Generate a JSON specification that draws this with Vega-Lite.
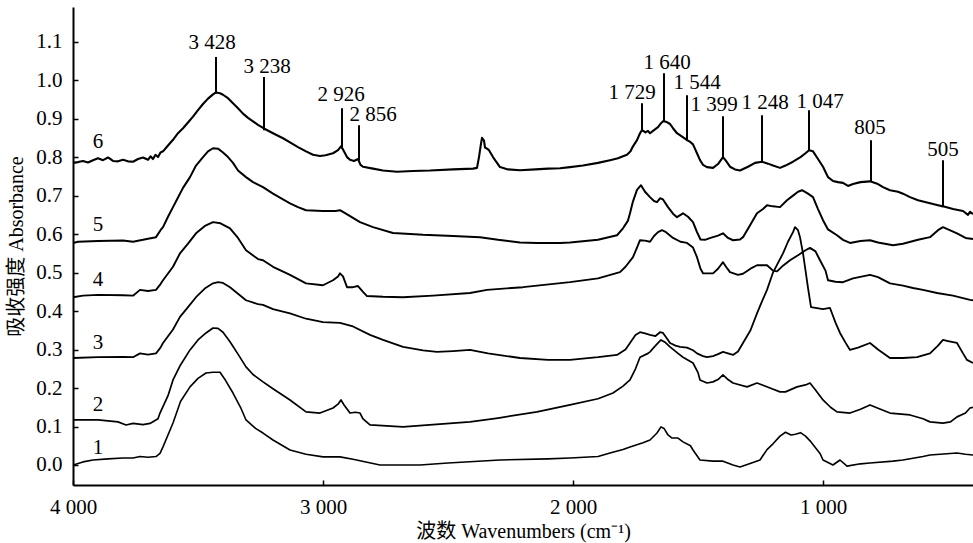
{
  "$schema": "https://vega.github.io/schema/vega-lite/v6.json",
  "width": 900,
  "height": 478,
  "autosize": "none",
  "padding": {"left": 73, "top": 7, "right": 0, "bottom": 58},
  "background": "white",
  "config": {
    "view": {"stroke": null},
    "font": "Liberation Serif, Times New Roman, serif",
    "text": {"font": "Liberation Serif, Times New Roman, serif"},
    "axis": {
      "grid": false,
      "domainColor": "black",
      "domainWidth": 2,
      "tickColor": "black",
      "tickWidth": 1.5,
      "tickSize": -5,
      "labelFont": "Liberation Serif, Times New Roman, serif",
      "labelFontSize": 21,
      "labelColor": "black",
      "labelPadding": 16,
      "labelFlush": false,
      "titleFont": "Liberation Serif, Noto Sans CJK SC, serif",
      "titleFontSize": 20,
      "titleFontWeight": "normal",
      "titleColor": "black"
    }
  },
  "datasets": {
    "spectra": [
      {"s":6,"wn":4000,"a":0.785},{"s":6,"wn":3980,"a":0.787},{"s":6,"wn":3960,"a":0.79},{"s":6,"wn":3940,"a":0.786},{"s":6,"wn":3920,"a":0.792},{"s":6,"wn":3900,"a":0.797},{"s":6,"wn":3880,"a":0.792},{"s":6,"wn":3860,"a":0.799},{"s":6,"wn":3840,"a":0.79},{"s":6,"wn":3820,"a":0.789},{"s":6,"wn":3800,"a":0.793},{"s":6,"wn":3780,"a":0.789},{"s":6,"wn":3760,"a":0.788},{"s":6,"wn":3740,"a":0.795},{"s":6,"wn":3720,"a":0.799},{"s":6,"wn":3700,"a":0.793},{"s":6,"wn":3690,"a":0.802},{"s":6,"wn":3680,"a":0.795},{"s":6,"wn":3670,"a":0.806},{"s":6,"wn":3660,"a":0.8},{"s":6,"wn":3650,"a":0.812},{"s":6,"wn":3640,"a":0.815},{"s":6,"wn":3620,"a":0.83},{"s":6,"wn":3600,"a":0.845},{"s":6,"wn":3580,"a":0.862},{"s":6,"wn":3560,"a":0.875},{"s":6,"wn":3540,"a":0.89},{"s":6,"wn":3520,"a":0.905},{"s":6,"wn":3500,"a":0.922},{"s":6,"wn":3480,"a":0.938},{"s":6,"wn":3460,"a":0.952},{"s":6,"wn":3440,"a":0.963},{"s":6,"wn":3428,"a":0.968},{"s":6,"wn":3412,"a":0.966},{"s":6,"wn":3400,"a":0.962},{"s":6,"wn":3380,"a":0.953},{"s":6,"wn":3360,"a":0.94},{"s":6,"wn":3340,"a":0.927},{"s":6,"wn":3320,"a":0.913},{"s":6,"wn":3300,"a":0.902},{"s":6,"wn":3280,"a":0.893},{"s":6,"wn":3260,"a":0.884},{"s":6,"wn":3238,"a":0.875},{"s":6,"wn":3200,"a":0.862},{"s":6,"wn":3160,"a":0.849},{"s":6,"wn":3132,"a":0.838},{"s":6,"wn":3100,"a":0.826},{"s":6,"wn":3068,"a":0.815},{"s":6,"wn":3040,"a":0.806},{"s":6,"wn":3012,"a":0.803},{"s":6,"wn":2990,"a":0.805},{"s":6,"wn":2960,"a":0.81},{"s":6,"wn":2940,"a":0.818},{"s":6,"wn":2928,"a":0.828},{"s":6,"wn":2920,"a":0.82},{"s":6,"wn":2904,"a":0.8},{"s":6,"wn":2892,"a":0.793},{"s":6,"wn":2876,"a":0.79},{"s":6,"wn":2860,"a":0.795},{"s":6,"wn":2850,"a":0.78},{"s":6,"wn":2840,"a":0.775},{"s":6,"wn":2800,"a":0.77},{"s":6,"wn":2760,"a":0.765},{"s":6,"wn":2704,"a":0.762},{"s":6,"wn":2640,"a":0.764},{"s":6,"wn":2572,"a":0.765},{"s":6,"wn":2480,"a":0.768},{"s":6,"wn":2400,"a":0.77},{"s":6,"wn":2384,"a":0.772},{"s":6,"wn":2376,"a":0.8},{"s":6,"wn":2368,"a":0.835},{"s":6,"wn":2364,"a":0.85},{"s":6,"wn":2356,"a":0.843},{"s":6,"wn":2352,"a":0.825},{"s":6,"wn":2344,"a":0.822},{"s":6,"wn":2336,"a":0.818},{"s":6,"wn":2320,"a":0.8},{"s":6,"wn":2304,"a":0.785},{"s":6,"wn":2292,"a":0.774},{"s":6,"wn":2260,"a":0.768},{"s":6,"wn":2212,"a":0.766},{"s":6,"wn":2150,"a":0.768},{"s":6,"wn":2100,"a":0.77},{"s":6,"wn":2052,"a":0.771},{"s":6,"wn":2012,"a":0.774},{"s":6,"wn":1960,"a":0.778},{"s":6,"wn":1900,"a":0.785},{"s":6,"wn":1852,"a":0.792},{"s":6,"wn":1820,"a":0.797},{"s":6,"wn":1800,"a":0.802},{"s":6,"wn":1784,"a":0.806},{"s":6,"wn":1770,"a":0.815},{"s":6,"wn":1760,"a":0.828},{"s":6,"wn":1744,"a":0.844},{"s":6,"wn":1732,"a":0.862},{"s":6,"wn":1724,"a":0.87},{"s":6,"wn":1710,"a":0.864},{"s":6,"wn":1700,"a":0.868},{"s":6,"wn":1692,"a":0.862},{"s":6,"wn":1676,"a":0.87},{"s":6,"wn":1660,"a":0.878},{"s":6,"wn":1648,"a":0.888},{"s":6,"wn":1640,"a":0.893},{"s":6,"wn":1628,"a":0.892},{"s":6,"wn":1612,"a":0.886},{"s":6,"wn":1600,"a":0.875},{"s":6,"wn":1584,"a":0.862},{"s":6,"wn":1568,"a":0.855},{"s":6,"wn":1552,"a":0.848},{"s":6,"wn":1544,"a":0.844},{"s":6,"wn":1532,"a":0.84},{"s":6,"wn":1520,"a":0.833},{"s":6,"wn":1504,"a":0.81},{"s":6,"wn":1492,"a":0.792},{"s":6,"wn":1480,"a":0.78},{"s":6,"wn":1464,"a":0.774},{"s":6,"wn":1440,"a":0.772},{"s":6,"wn":1420,"a":0.782},{"s":6,"wn":1400,"a":0.8},{"s":6,"wn":1388,"a":0.79},{"s":6,"wn":1372,"a":0.775},{"s":6,"wn":1352,"a":0.768},{"s":6,"wn":1332,"a":0.765},{"s":6,"wn":1300,"a":0.775},{"s":6,"wn":1272,"a":0.785},{"s":6,"wn":1244,"a":0.788},{"s":6,"wn":1220,"a":0.783},{"s":6,"wn":1200,"a":0.778},{"s":6,"wn":1172,"a":0.772},{"s":6,"wn":1150,"a":0.778},{"s":6,"wn":1120,"a":0.788},{"s":6,"wn":1090,"a":0.8},{"s":6,"wn":1070,"a":0.81},{"s":6,"wn":1056,"a":0.818},{"s":6,"wn":1040,"a":0.815},{"s":6,"wn":1020,"a":0.795},{"s":6,"wn":1000,"a":0.775},{"s":6,"wn":980,"a":0.748},{"s":6,"wn":960,"a":0.738},{"s":6,"wn":940,"a":0.735},{"s":6,"wn":920,"a":0.733},{"s":6,"wn":900,"a":0.725},{"s":6,"wn":880,"a":0.73},{"s":6,"wn":850,"a":0.735},{"s":6,"wn":812,"a":0.737},{"s":6,"wn":780,"a":0.73},{"s":6,"wn":760,"a":0.722},{"s":6,"wn":732,"a":0.714},{"s":6,"wn":700,"a":0.71},{"s":6,"wn":680,"a":0.705},{"s":6,"wn":652,"a":0.696},{"s":6,"wn":620,"a":0.688},{"s":6,"wn":572,"a":0.68},{"s":6,"wn":540,"a":0.675},{"s":6,"wn":520,"a":0.672},{"s":6,"wn":480,"a":0.665},{"s":6,"wn":440,"a":0.66},{"s":6,"wn":420,"a":0.65},{"s":6,"wn":412,"a":0.658},{"s":6,"wn":400,"a":0.652},

      {"s":5,"wn":4000,"a":0.577},{"s":5,"wn":3980,"a":0.58},{"s":5,"wn":3900,"a":0.582},{"s":5,"wn":3800,"a":0.583},{"s":5,"wn":3760,"a":0.58},{"s":5,"wn":3720,"a":0.585},{"s":5,"wn":3700,"a":0.588},{"s":5,"wn":3668,"a":0.592},{"s":5,"wn":3650,"a":0.61},{"s":5,"wn":3640,"a":0.618},{"s":5,"wn":3620,"a":0.645},{"s":5,"wn":3600,"a":0.67},{"s":5,"wn":3580,"a":0.695},{"s":5,"wn":3560,"a":0.72},{"s":5,"wn":3532,"a":0.748},{"s":5,"wn":3508,"a":0.778},{"s":5,"wn":3480,"a":0.8},{"s":5,"wn":3460,"a":0.815},{"s":5,"wn":3440,"a":0.823},{"s":5,"wn":3420,"a":0.822},{"s":5,"wn":3400,"a":0.812},{"s":5,"wn":3380,"a":0.8},{"s":5,"wn":3360,"a":0.785},{"s":5,"wn":3340,"a":0.765},{"s":5,"wn":3308,"a":0.748},{"s":5,"wn":3280,"a":0.735},{"s":5,"wn":3240,"a":0.722},{"s":5,"wn":3200,"a":0.705},{"s":5,"wn":3160,"a":0.69},{"s":5,"wn":3132,"a":0.68},{"s":5,"wn":3100,"a":0.67},{"s":5,"wn":3068,"a":0.662},{"s":5,"wn":3000,"a":0.66},{"s":5,"wn":2950,"a":0.66},{"s":5,"wn":2932,"a":0.662},{"s":5,"wn":2900,"a":0.65},{"s":5,"wn":2852,"a":0.631},{"s":5,"wn":2800,"a":0.618},{"s":5,"wn":2720,"a":0.603},{"s":5,"wn":2600,"a":0.598},{"s":5,"wn":2480,"a":0.595},{"s":5,"wn":2372,"a":0.592},{"s":5,"wn":2300,"a":0.585},{"s":5,"wn":2212,"a":0.578},{"s":5,"wn":2144,"a":0.577},{"s":5,"wn":2052,"a":0.577},{"s":5,"wn":2012,"a":0.578},{"s":5,"wn":1900,"a":0.585},{"s":5,"wn":1824,"a":0.597},{"s":5,"wn":1800,"a":0.615},{"s":5,"wn":1780,"a":0.635},{"s":5,"wn":1772,"a":0.654},{"s":5,"wn":1760,"a":0.685},{"s":5,"wn":1744,"a":0.715},{"s":5,"wn":1728,"a":0.727},{"s":5,"wn":1712,"a":0.71},{"s":5,"wn":1692,"a":0.696},{"s":5,"wn":1676,"a":0.686},{"s":5,"wn":1664,"a":0.683},{"s":5,"wn":1652,"a":0.693},{"s":5,"wn":1640,"a":0.69},{"s":5,"wn":1620,"a":0.67},{"s":5,"wn":1600,"a":0.653},{"s":5,"wn":1584,"a":0.644},{"s":5,"wn":1560,"a":0.654},{"s":5,"wn":1540,"a":0.645},{"s":5,"wn":1520,"a":0.631},{"s":5,"wn":1504,"a":0.605},{"s":5,"wn":1490,"a":0.586},{"s":5,"wn":1472,"a":0.585},{"s":5,"wn":1450,"a":0.59},{"s":5,"wn":1420,"a":0.596},{"s":5,"wn":1400,"a":0.602},{"s":5,"wn":1380,"a":0.59},{"s":5,"wn":1360,"a":0.584},{"s":5,"wn":1332,"a":0.586},{"s":5,"wn":1320,"a":0.592},{"s":5,"wn":1290,"a":0.625},{"s":5,"wn":1264,"a":0.654},{"s":5,"wn":1240,"a":0.665},{"s":5,"wn":1224,"a":0.675},{"s":5,"wn":1200,"a":0.672},{"s":5,"wn":1172,"a":0.67},{"s":5,"wn":1144,"a":0.688},{"s":5,"wn":1120,"a":0.7},{"s":5,"wn":1100,"a":0.71},{"s":5,"wn":1084,"a":0.714},{"s":5,"wn":1060,"a":0.705},{"s":5,"wn":1040,"a":0.696},{"s":5,"wn":1020,"a":0.665},{"s":5,"wn":1000,"a":0.636},{"s":5,"wn":980,"a":0.612},{"s":5,"wn":944,"a":0.597},{"s":5,"wn":920,"a":0.585},{"s":5,"wn":892,"a":0.577},{"s":5,"wn":850,"a":0.582},{"s":5,"wn":812,"a":0.584},{"s":5,"wn":780,"a":0.578},{"s":5,"wn":720,"a":0.571},{"s":5,"wn":680,"a":0.575},{"s":5,"wn":620,"a":0.585},{"s":5,"wn":572,"a":0.592},{"s":5,"wn":540,"a":0.61},{"s":5,"wn":520,"a":0.618},{"s":5,"wn":500,"a":0.612},{"s":5,"wn":464,"a":0.602},{"s":5,"wn":430,"a":0.59},{"s":5,"wn":400,"a":0.587},

      {"s":4,"wn":4000,"a":0.436},{"s":4,"wn":3960,"a":0.44},{"s":4,"wn":3900,"a":0.442},{"s":4,"wn":3800,"a":0.441},{"s":4,"wn":3760,"a":0.44},{"s":4,"wn":3732,"a":0.455},{"s":4,"wn":3700,"a":0.452},{"s":4,"wn":3668,"a":0.455},{"s":4,"wn":3650,"a":0.47},{"s":4,"wn":3640,"a":0.48},{"s":4,"wn":3600,"a":0.515},{"s":4,"wn":3572,"a":0.55},{"s":4,"wn":3540,"a":0.575},{"s":4,"wn":3508,"a":0.602},{"s":4,"wn":3470,"a":0.622},{"s":4,"wn":3440,"a":0.631},{"s":4,"wn":3410,"a":0.628},{"s":4,"wn":3372,"a":0.615},{"s":4,"wn":3340,"a":0.59},{"s":4,"wn":3308,"a":0.558},{"s":4,"wn":3260,"a":0.535},{"s":4,"wn":3240,"a":0.532},{"s":4,"wn":3200,"a":0.515},{"s":4,"wn":3132,"a":0.494},{"s":4,"wn":3068,"a":0.472},{"s":4,"wn":3000,"a":0.467},{"s":4,"wn":2960,"a":0.48},{"s":4,"wn":2940,"a":0.49},{"s":4,"wn":2932,"a":0.498},{"s":4,"wn":2920,"a":0.49},{"s":4,"wn":2904,"a":0.462},{"s":4,"wn":2880,"a":0.462},{"s":4,"wn":2860,"a":0.465},{"s":4,"wn":2840,"a":0.45},{"s":4,"wn":2824,"a":0.439},{"s":4,"wn":2760,"a":0.437},{"s":4,"wn":2680,"a":0.436},{"s":4,"wn":2560,"a":0.44},{"s":4,"wn":2412,"a":0.447},{"s":4,"wn":2344,"a":0.455},{"s":4,"wn":2200,"a":0.462},{"s":4,"wn":2012,"a":0.475},{"s":4,"wn":1900,"a":0.485},{"s":4,"wn":1812,"a":0.501},{"s":4,"wn":1790,"a":0.515},{"s":4,"wn":1760,"a":0.54},{"s":4,"wn":1744,"a":0.565},{"s":4,"wn":1732,"a":0.584},{"s":4,"wn":1712,"a":0.583},{"s":4,"wn":1692,"a":0.58},{"s":4,"wn":1676,"a":0.595},{"s":4,"wn":1660,"a":0.605},{"s":4,"wn":1644,"a":0.61},{"s":4,"wn":1628,"a":0.605},{"s":4,"wn":1600,"a":0.59},{"s":4,"wn":1570,"a":0.58},{"s":4,"wn":1544,"a":0.577},{"s":4,"wn":1520,"a":0.565},{"s":4,"wn":1504,"a":0.54},{"s":4,"wn":1490,"a":0.51},{"s":4,"wn":1480,"a":0.498},{"s":4,"wn":1440,"a":0.498},{"s":4,"wn":1420,"a":0.51},{"s":4,"wn":1400,"a":0.527},{"s":4,"wn":1388,"a":0.515},{"s":4,"wn":1372,"a":0.501},{"s":4,"wn":1340,"a":0.494},{"s":4,"wn":1320,"a":0.497},{"s":4,"wn":1290,"a":0.51},{"s":4,"wn":1264,"a":0.519},{"s":4,"wn":1224,"a":0.519},{"s":4,"wn":1200,"a":0.505},{"s":4,"wn":1184,"a":0.503},{"s":4,"wn":1160,"a":0.518},{"s":4,"wn":1132,"a":0.532},{"s":4,"wn":1100,"a":0.545},{"s":4,"wn":1070,"a":0.558},{"s":4,"wn":1052,"a":0.564},{"s":4,"wn":1030,"a":0.555},{"s":4,"wn":1012,"a":0.532},{"s":4,"wn":990,"a":0.505},{"s":4,"wn":980,"a":0.48},{"s":4,"wn":950,"a":0.476},{"s":4,"wn":920,"a":0.475},{"s":4,"wn":880,"a":0.485},{"s":4,"wn":812,"a":0.494},{"s":4,"wn":780,"a":0.488},{"s":4,"wn":732,"a":0.472},{"s":4,"wn":680,"a":0.466},{"s":4,"wn":640,"a":0.46},{"s":4,"wn":600,"a":0.455},{"s":4,"wn":544,"a":0.447},{"s":4,"wn":480,"a":0.44},{"s":4,"wn":412,"a":0.429},{"s":4,"wn":400,"a":0.428},

      {"s":3,"wn":4000,"a":0.278},{"s":3,"wn":3900,"a":0.28},{"s":3,"wn":3800,"a":0.281},{"s":3,"wn":3760,"a":0.28},{"s":3,"wn":3732,"a":0.29},{"s":3,"wn":3700,"a":0.287},{"s":3,"wn":3668,"a":0.29},{"s":3,"wn":3650,"a":0.305},{"s":3,"wn":3640,"a":0.317},{"s":3,"wn":3600,"a":0.352},{"s":3,"wn":3572,"a":0.385},{"s":3,"wn":3540,"a":0.41},{"s":3,"wn":3508,"a":0.436},{"s":3,"wn":3470,"a":0.46},{"s":3,"wn":3440,"a":0.472},{"s":3,"wn":3420,"a":0.475},{"s":3,"wn":3400,"a":0.473},{"s":3,"wn":3372,"a":0.462},{"s":3,"wn":3340,"a":0.445},{"s":3,"wn":3308,"a":0.428},{"s":3,"wn":3260,"a":0.418},{"s":3,"wn":3240,"a":0.416},{"s":3,"wn":3200,"a":0.405},{"s":3,"wn":3132,"a":0.394},{"s":3,"wn":3068,"a":0.38},{"s":3,"wn":3000,"a":0.371},{"s":3,"wn":2932,"a":0.369},{"s":3,"wn":2880,"a":0.36},{"s":3,"wn":2812,"a":0.338},{"s":3,"wn":2760,"a":0.325},{"s":3,"wn":2680,"a":0.307},{"s":3,"wn":2600,"a":0.298},{"s":3,"wn":2544,"a":0.294},{"s":3,"wn":2480,"a":0.296},{"s":3,"wn":2412,"a":0.299},{"s":3,"wn":2340,"a":0.29},{"s":3,"wn":2212,"a":0.278},{"s":3,"wn":2100,"a":0.273},{"s":3,"wn":2012,"a":0.273},{"s":3,"wn":1900,"a":0.28},{"s":3,"wn":1824,"a":0.286},{"s":3,"wn":1790,"a":0.3},{"s":3,"wn":1772,"a":0.317},{"s":3,"wn":1750,"a":0.338},{"s":3,"wn":1732,"a":0.345},{"s":3,"wn":1712,"a":0.342},{"s":3,"wn":1692,"a":0.338},{"s":3,"wn":1670,"a":0.335},{"s":3,"wn":1652,"a":0.345},{"s":3,"wn":1640,"a":0.343},{"s":3,"wn":1620,"a":0.325},{"s":3,"wn":1612,"a":0.317},{"s":3,"wn":1590,"a":0.31},{"s":3,"wn":1572,"a":0.307},{"s":3,"wn":1544,"a":0.305},{"s":3,"wn":1520,"a":0.298},{"s":3,"wn":1504,"a":0.29},{"s":3,"wn":1480,"a":0.283},{"s":3,"wn":1464,"a":0.28},{"s":3,"wn":1440,"a":0.283},{"s":3,"wn":1420,"a":0.288},{"s":3,"wn":1400,"a":0.294},{"s":3,"wn":1380,"a":0.29},{"s":3,"wn":1360,"a":0.286},{"s":3,"wn":1340,"a":0.295},{"s":3,"wn":1320,"a":0.317},{"s":3,"wn":1290,"a":0.35},{"s":3,"wn":1264,"a":0.394},{"s":3,"wn":1244,"a":0.425},{"s":3,"wn":1224,"a":0.455},{"s":3,"wn":1200,"a":0.5},{"s":3,"wn":1184,"a":0.52},{"s":3,"wn":1160,"a":0.55},{"s":3,"wn":1140,"a":0.58},{"s":3,"wn":1120,"a":0.605},{"s":3,"wn":1112,"a":0.618},{"s":3,"wn":1100,"a":0.61},{"s":3,"wn":1092,"a":0.592},{"s":3,"wn":1080,"a":0.55},{"s":3,"wn":1072,"a":0.515},{"s":3,"wn":1060,"a":0.46},{"s":3,"wn":1048,"a":0.41},{"s":3,"wn":1030,"a":0.408},{"s":3,"wn":1000,"a":0.405},{"s":3,"wn":972,"a":0.408},{"s":3,"wn":950,"a":0.37},{"s":3,"wn":932,"a":0.343},{"s":3,"wn":910,"a":0.318},{"s":3,"wn":892,"a":0.299},{"s":3,"wn":860,"a":0.305},{"s":3,"wn":812,"a":0.317},{"s":3,"wn":780,"a":0.3},{"s":3,"wn":732,"a":0.278},{"s":3,"wn":680,"a":0.278},{"s":3,"wn":624,"a":0.28},{"s":3,"wn":572,"a":0.29},{"s":3,"wn":540,"a":0.31},{"s":3,"wn":520,"a":0.325},{"s":3,"wn":500,"a":0.322},{"s":3,"wn":464,"a":0.317},{"s":3,"wn":440,"a":0.29},{"s":3,"wn":424,"a":0.273},{"s":3,"wn":400,"a":0.265},

      {"s":2,"wn":4000,"a":0.117},{"s":2,"wn":3900,"a":0.117},{"s":2,"wn":3820,"a":0.112},{"s":2,"wn":3788,"a":0.104},{"s":2,"wn":3760,"a":0.108},{"s":2,"wn":3720,"a":0.105},{"s":2,"wn":3692,"a":0.108},{"s":2,"wn":3660,"a":0.12},{"s":2,"wn":3652,"a":0.135},{"s":2,"wn":3620,"a":0.18},{"s":2,"wn":3600,"a":0.221},{"s":2,"wn":3570,"a":0.26},{"s":2,"wn":3532,"a":0.299},{"s":2,"wn":3500,"a":0.325},{"s":2,"wn":3468,"a":0.343},{"s":2,"wn":3440,"a":0.356},{"s":2,"wn":3420,"a":0.355},{"s":2,"wn":3400,"a":0.345},{"s":2,"wn":3372,"a":0.32},{"s":2,"wn":3340,"a":0.288},{"s":2,"wn":3308,"a":0.255},{"s":2,"wn":3280,"a":0.235},{"s":2,"wn":3240,"a":0.216},{"s":2,"wn":3200,"a":0.198},{"s":2,"wn":3132,"a":0.169},{"s":2,"wn":3068,"a":0.138},{"s":2,"wn":3012,"a":0.135},{"s":2,"wn":2960,"a":0.148},{"s":2,"wn":2940,"a":0.158},{"s":2,"wn":2928,"a":0.169},{"s":2,"wn":2915,"a":0.155},{"s":2,"wn":2892,"a":0.135},{"s":2,"wn":2870,"a":0.137},{"s":2,"wn":2852,"a":0.135},{"s":2,"wn":2840,"a":0.12},{"s":2,"wn":2812,"a":0.104},{"s":2,"wn":2680,"a":0.099},{"s":2,"wn":2560,"a":0.105},{"s":2,"wn":2412,"a":0.112},{"s":2,"wn":2300,"a":0.122},{"s":2,"wn":2144,"a":0.138},{"s":2,"wn":2012,"a":0.156},{"s":2,"wn":1900,"a":0.172},{"s":2,"wn":1840,"a":0.187},{"s":2,"wn":1800,"a":0.205},{"s":2,"wn":1772,"a":0.221},{"s":2,"wn":1750,"a":0.25},{"s":2,"wn":1732,"a":0.28},{"s":2,"wn":1700,"a":0.29},{"s":2,"wn":1692,"a":0.294},{"s":2,"wn":1670,"a":0.31},{"s":2,"wn":1648,"a":0.325},{"s":2,"wn":1630,"a":0.318},{"s":2,"wn":1612,"a":0.307},{"s":2,"wn":1580,"a":0.29},{"s":2,"wn":1560,"a":0.28},{"s":2,"wn":1520,"a":0.265},{"s":2,"wn":1500,"a":0.24},{"s":2,"wn":1492,"a":0.221},{"s":2,"wn":1464,"a":0.213},{"s":2,"wn":1440,"a":0.216},{"s":2,"wn":1420,"a":0.222},{"s":2,"wn":1400,"a":0.234},{"s":2,"wn":1380,"a":0.222},{"s":2,"wn":1360,"a":0.213},{"s":2,"wn":1304,"a":0.203},{"s":2,"wn":1264,"a":0.213},{"s":2,"wn":1212,"a":0.2},{"s":2,"wn":1172,"a":0.19},{"s":2,"wn":1150,"a":0.19},{"s":2,"wn":1104,"a":0.203},{"s":2,"wn":1070,"a":0.208},{"s":2,"wn":1052,"a":0.213},{"s":2,"wn":1030,"a":0.195},{"s":2,"wn":1000,"a":0.169},{"s":2,"wn":970,"a":0.15},{"s":2,"wn":944,"a":0.138},{"s":2,"wn":892,"a":0.135},{"s":2,"wn":850,"a":0.145},{"s":2,"wn":812,"a":0.156},{"s":2,"wn":770,"a":0.145},{"s":2,"wn":732,"a":0.135},{"s":2,"wn":652,"a":0.13},{"s":2,"wn":600,"a":0.12},{"s":2,"wn":572,"a":0.112},{"s":2,"wn":520,"a":0.109},{"s":2,"wn":490,"a":0.112},{"s":2,"wn":464,"a":0.125},{"s":2,"wn":430,"a":0.135},{"s":2,"wn":412,"a":0.148},{"s":2,"wn":400,"a":0.15},

      {"s":1,"wn":4000,"a":0.0},{"s":1,"wn":3960,"a":0.008},{"s":1,"wn":3920,"a":0.013},{"s":1,"wn":3860,"a":0.016},{"s":1,"wn":3800,"a":0.018},{"s":1,"wn":3760,"a":0.018},{"s":1,"wn":3732,"a":0.022},{"s":1,"wn":3700,"a":0.02},{"s":1,"wn":3668,"a":0.022},{"s":1,"wn":3652,"a":0.03},{"s":1,"wn":3640,"a":0.047},{"s":1,"wn":3600,"a":0.109},{"s":1,"wn":3570,"a":0.165},{"s":1,"wn":3532,"a":0.203},{"s":1,"wn":3500,"a":0.225},{"s":1,"wn":3468,"a":0.239},{"s":1,"wn":3440,"a":0.241},{"s":1,"wn":3412,"a":0.241},{"s":1,"wn":3390,"a":0.22},{"s":1,"wn":3360,"a":0.187},{"s":1,"wn":3330,"a":0.15},{"s":1,"wn":3308,"a":0.117},{"s":1,"wn":3270,"a":0.095},{"s":1,"wn":3240,"a":0.083},{"s":1,"wn":3200,"a":0.065},{"s":1,"wn":3132,"a":0.039},{"s":1,"wn":3068,"a":0.028},{"s":1,"wn":3000,"a":0.021},{"s":1,"wn":2932,"a":0.021},{"s":1,"wn":2880,"a":0.015},{"s":1,"wn":2772,"a":0.0},{"s":1,"wn":2612,"a":0.0},{"s":1,"wn":2500,"a":0.005},{"s":1,"wn":2292,"a":0.013},{"s":1,"wn":2100,"a":0.016},{"s":1,"wn":2012,"a":0.018},{"s":1,"wn":1900,"a":0.022},{"s":1,"wn":1852,"a":0.031},{"s":1,"wn":1800,"a":0.04},{"s":1,"wn":1772,"a":0.047},{"s":1,"wn":1720,"a":0.058},{"s":1,"wn":1692,"a":0.065},{"s":1,"wn":1664,"a":0.083},{"s":1,"wn":1648,"a":0.099},{"s":1,"wn":1636,"a":0.095},{"s":1,"wn":1620,"a":0.078},{"s":1,"wn":1604,"a":0.07},{"s":1,"wn":1580,"a":0.07},{"s":1,"wn":1560,"a":0.06},{"s":1,"wn":1530,"a":0.05},{"s":1,"wn":1520,"a":0.039},{"s":1,"wn":1492,"a":0.013},{"s":1,"wn":1440,"a":0.01},{"s":1,"wn":1400,"a":0.01},{"s":1,"wn":1360,"a":0.0},{"s":1,"wn":1332,"a":-0.005},{"s":1,"wn":1300,"a":0.002},{"s":1,"wn":1252,"a":0.013},{"s":1,"wn":1224,"a":0.04},{"s":1,"wn":1200,"a":0.055},{"s":1,"wn":1172,"a":0.075},{"s":1,"wn":1150,"a":0.085},{"s":1,"wn":1128,"a":0.078},{"s":1,"wn":1110,"a":0.08},{"s":1,"wn":1090,"a":0.084},{"s":1,"wn":1070,"a":0.075},{"s":1,"wn":1048,"a":0.06},{"s":1,"wn":1012,"a":0.03},{"s":1,"wn":1000,"a":0.013},{"s":1,"wn":960,"a":0.0},{"s":1,"wn":932,"a":0.013},{"s":1,"wn":904,"a":-0.003},{"s":1,"wn":850,"a":0.003},{"s":1,"wn":812,"a":0.005},{"s":1,"wn":720,"a":0.01},{"s":1,"wn":680,"a":0.013},{"s":1,"wn":600,"a":0.022},{"s":1,"wn":572,"a":0.026},{"s":1,"wn":464,"a":0.031},{"s":1,"wn":430,"a":0.028},{"s":1,"wn":400,"a":0.026}
    ],
    "peaks": [
      {"label":"3 428","wn":3428,"y1":0.966,"y2":1.06,"lwn":3444,"ly":1.096},
      {"label":"3 238","wn":3236,"y1":0.87,"y2":1.008,"lwn":3224,"ly":1.034},
      {"label":"2 926","wn":2924,"y1":0.826,"y2":0.927,"lwn":2928,"ly":0.961},
      {"label":"2 856","wn":2856,"y1":0.792,"y2":0.883,"lwn":2800,"ly":0.909},
      {"label":"1 729","wn":1724,"y1":0.87,"y2":0.94,"lwn":1764,"ly":0.966},
      {"label":"1 640","wn":1636,"y1":0.893,"y2":1.018,"lwn":1624,"ly":1.044},
      {"label":"1 544","wn":1544,"y1":0.844,"y2":0.961,"lwn":1504,"ly":0.992},
      {"label":"1 399","wn":1400,"y1":0.8,"y2":0.906,"lwn":1436,"ly":0.935},
      {"label":"1 248","wn":1244,"y1":0.788,"y2":0.909,"lwn":1232,"ly":0.94},
      {"label":"1 047","wn":1056,"y1":0.818,"y2":0.922,"lwn":1012,"ly":0.943},
      {"label":"805","wn":808,"y1":0.737,"y2":0.844,"lwn":812,"ly":0.875},
      {"label":"505","wn":520,"y1":0.672,"y2":0.792,"lwn":520,"ly":0.818}
    ],
    "names": [
      {"n":"6","wn":3900,"a":0.839},
      {"n":"5","wn":3900,"a":0.623},
      {"n":"4","wn":3900,"a":0.481},
      {"n":"3","wn":3900,"a":0.317},
      {"n":"2","wn":3900,"a":0.156},
      {"n":"1","wn":3900,"a":0.044}
    ]
  },
  "layer": [
    {
      "data": {"name": "spectra"},
      "mark": {"type": "line", "color": "black", "strokeJoin": "round", "clip": true},
      "encoding": {
        "x": {
          "field": "wn", "type": "quantitative",
          "scale": {"domain": [400, 4000], "reverse": true, "nice": false, "zero": false},
          "axis": {
            "values": [4000, 3000, 2000, 1000],
            "labelExpr": "replace(format(datum.value, ','), ',', ' ')",
            "labelFont": "Liberation Serif, Times New Roman, serif",
            "title": "波数 Wavenumbers (cm⁻¹)",
            "titlePadding": 4
          }
        },
        "y": {
          "field": "a", "type": "quantitative",
          "scale": {"domain": [-0.052, 1.19], "nice": false, "zero": false},
          "axis": {
            "values": [0, 0.1, 0.2, 0.3, 0.4, 0.5, 0.6, 0.7, 0.8, 0.9, 1.0, 1.1],
            "format": ".1f",
            "labelFont": "Liberation Serif, Times New Roman, serif",
            "title": "吸收强度 Absorbance",
            "titlePadding": 9
          }
        },
        "detail": {"field": "s", "type": "nominal"},
        "strokeWidth": {
          "field": "s", "type": "ordinal",
          "scale": {"domain": [1, 2, 3, 4, 5, 6], "range": [1.6, 2.1, 1.2, 2.1, 1.7, 2.2]},
          "legend": null
        },
        "order": {"field": "wn", "type": "quantitative", "sort": "descending"}
      }
    },
    {
      "data": {"name": "peaks"},
      "mark": {"type": "rule", "color": "black", "strokeWidth": 2},
      "encoding": {
        "x": {"field": "wn", "type": "quantitative"},
        "y": {"field": "y1", "type": "quantitative"},
        "y2": {"field": "y2"}
      }
    },
    {
      "data": {"name": "peaks"},
      "mark": {"type": "text", "font": "Liberation Serif, Times New Roman, serif", "fontSize": 21, "color": "black", "align": "center", "baseline": "middle"},
      "encoding": {
        "x": {"field": "lwn", "type": "quantitative"},
        "y": {"field": "ly", "type": "quantitative"},
        "text": {"field": "label"}
      }
    },
    {
      "data": {"name": "names"},
      "mark": {"type": "text", "font": "Liberation Serif, Times New Roman, serif", "fontSize": 21, "color": "black", "align": "center", "baseline": "middle"},
      "encoding": {
        "x": {"field": "wn", "type": "quantitative"},
        "y": {"field": "a", "type": "quantitative"},
        "text": {"field": "n"}
      }
    }
  ]
}
